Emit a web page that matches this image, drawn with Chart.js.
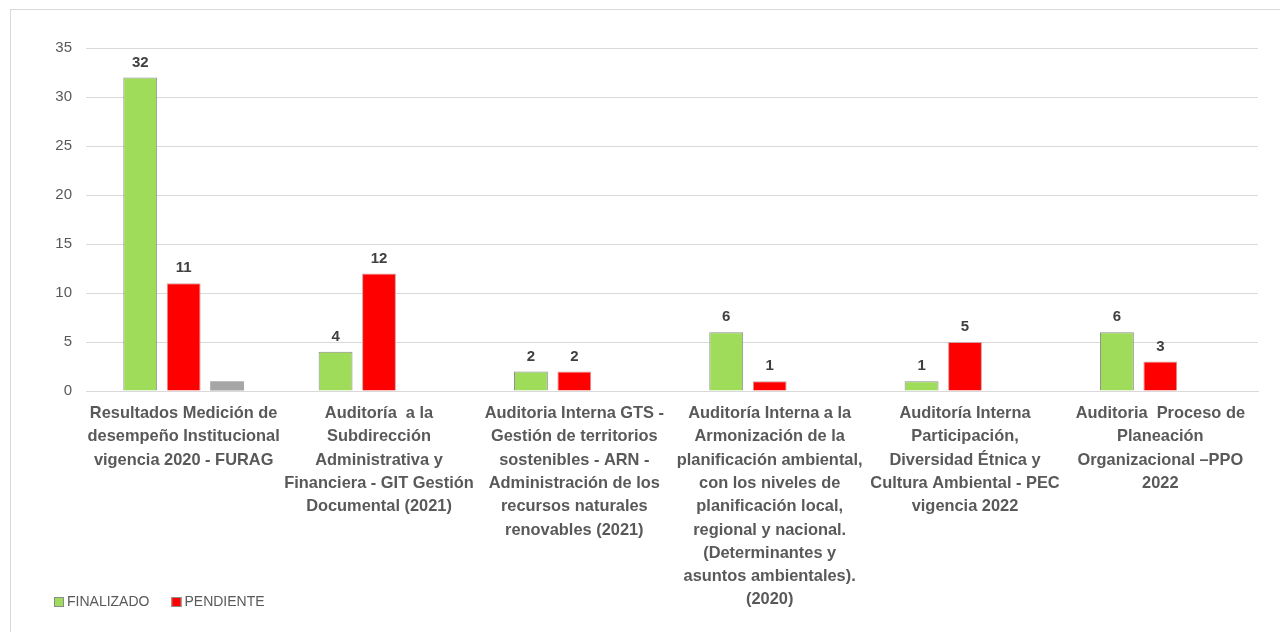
<!DOCTYPE html>
<html>
<head>
<meta charset="utf-8">
<script src="https://cdn.jsdelivr.net/npm/chart.js@4/dist/chart.umd.min.js"></script>
<style>
  html, body { margin: 0; padding: 0; background: #fff; overflow: hidden; }
  #frame { position: absolute; left: 10px; top: 9px; width: 1300px; height: 700px; border: 1px solid #d9d9d9; box-sizing: border-box; }
  #wrap { position: absolute; left: 0; top: 0; width: 1280px; height: 632px; }
</style>
</head>
<body>
<div id="frame"></div>
<div id="wrap"><canvas id="c" width="1280" height="632"></canvas></div>
<script>
const categories = [
  ["Resultados Medición de", "desempeño Institucional", "vigencia 2020 - FURAG"],
  ["Auditoría  a la", "Subdirección", "Administrativa y", "Financiera - GIT Gestión", "Documental (2021)"],
  ["Auditoria Interna GTS -", "Gestión de territorios", "sostenibles - ARN -", "Administración de los", "recursos naturales", "renovables (2021)"],
  ["Auditoría Interna a la", "Armonización de la", "planificación ambiental,", "con los niveles de", "planificación local,", "regional y nacional.", "(Determinantes y", "asuntos ambientales).", "(2020)"],
  ["Auditoría Interna", "Participación,", "Diversidad Étnica y", "Cultura Ambiental - PEC", "vigencia 2022"],
  ["Auditoria  Proceso de", "Planeación", "Organizacional –PPO", "2022"]
];
const finalizado = [32, 4, 2, 6, 1, 6];
const pendiente = [11, 12, 2, 1, 5, 3];
const otro = [1, null, null, null, null, null];
const seriesNames = ["FINALIZADO", "PENDIENTE", ""];
const yTicks = [0, 5, 10, 15, 20, 25, 30, 35];

const FONT = '"Liberation Sans Narrow", "Arial Narrow", "Liberation Sans", sans-serif';
const TEXT = '#595959';

const valueLabels = {
  id: 'valueLabels',
  afterDatasetsDraw(chart) {
    const ctx = chart.ctx;
    ctx.save();
    ctx.font = 'bold 15px ' + FONT;
    ctx.fillStyle = '#404040';
    ctx.textAlign = 'center';
    ctx.textBaseline = 'middle';
    [0, 1].forEach(di => {
      const meta = chart.getDatasetMeta(di);
      meta.data.forEach((el, i) => {
        const v = chart.data.datasets[di].data[i];
        if (v === null || v === undefined) return;
        ctx.fillText(String(v), el.x, el.y - 15);
      });
    });
    ctx.restore();
  }
};

const customLegend = {
  id: 'customLegend',
  afterDraw(chart) {
    const ctx = chart.ctx;
    ctx.save();
    ctx.font = '14px ' + FONT;
    ctx.textBaseline = 'middle';
    let x = 54;
    const y = 602;
    [0, 1].forEach(di => {
      const ds = chart.data.datasets[di];
      ctx.fillStyle = ds.backgroundColor;
      ctx.fillRect(x, y - 5, 10, 10);
      ctx.strokeStyle = '#8c8c8c';
      ctx.lineWidth = 1;
      ctx.strokeRect(x + 0.5, y - 4.5, 9, 9);
      ctx.fillStyle = TEXT;
      ctx.textAlign = 'left';
      ctx.fillText(seriesNames[di], x + 13, y);
      x += 13 + ctx.measureText(seriesNames[di]).width + 22;
    });
    ctx.restore();
  }
};

new Chart(document.getElementById('c'), {
  type: 'bar',
  data: {
    labels: categories,
    datasets: [
      { label: seriesNames[0], data: finalizado, backgroundColor: '#9edc5a', borderColor: '#8c8c8c', borderWidth: 1 },
      { label: seriesNames[1], data: pendiente, backgroundColor: '#ff0000', borderColor: '#d0a0a0', borderWidth: 1 },
      { label: seriesNames[2], data: otro, backgroundColor: '#a6a6a6', borderWidth: 0 }
    ]
  },
  options: {
    responsive: false,
    animation: false,
    devicePixelRatio: 1,
    layout: { padding: { top: 48, right: 22, left: 0, bottom: 0 } },
    plugins: { legend: { display: false }, tooltip: { enabled: false } },
    datasets: { bar: { categoryPercentage: 0.667, barPercentage: 0.78 } },
    scales: {
      x: {
        grid: { display: false, drawTicks: false },
        border: { display: true, color: '#d9d9d9', width: 1 },
        ticks: {
          autoSkip: false, maxRotation: 0, minRotation: 0, padding: 11,
          color: TEXT,
          font: { family: FONT, size: 16.4, weight: 'bold', lineHeight: 1.42 }
        },
        afterFit(scale) { scale.height = 632 - 391; }
      },
      y: {
        min: 0, max: 35,
        afterBuildTicks(scale) { scale.ticks = yTicks.map(v => ({ value: v })); },
        grid: { color: '#d9d9d9', lineWidth: 1, drawTicks: false },
        border: { display: false },
        ticks: { padding: 14, color: TEXT, font: { family: FONT, size: 15 } },
        afterFit(scale) { scale.width = 86; }
      }
    }
  },
  plugins: [valueLabels, customLegend]
});
</script>
</body>
</html>
